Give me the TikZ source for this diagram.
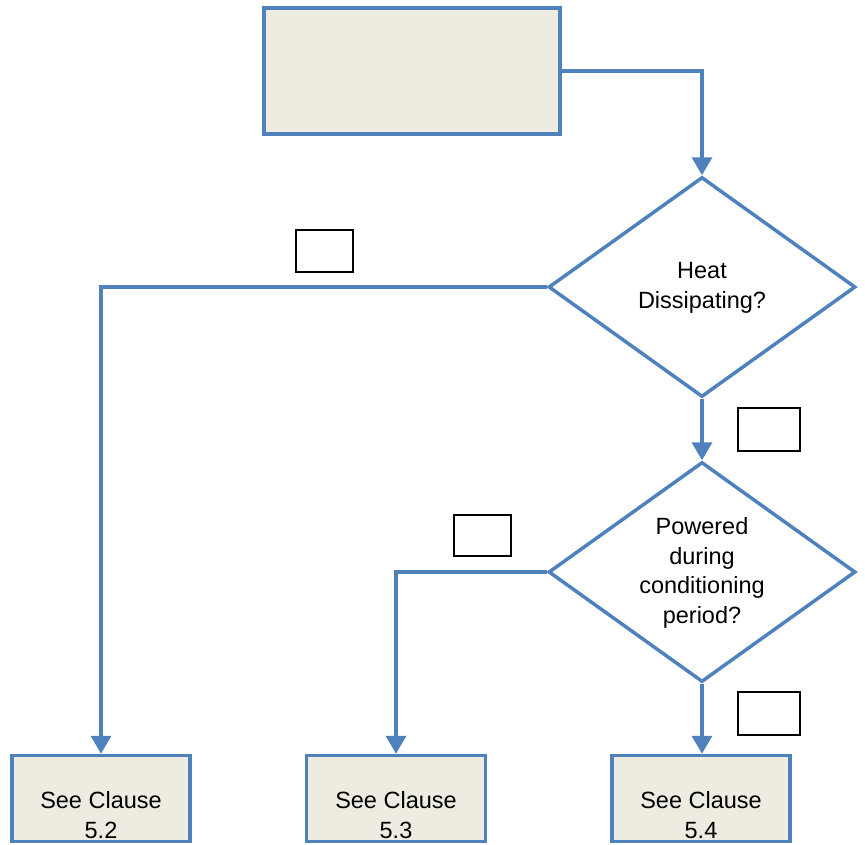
\documentclass[tikz,border=0pt]{standalone}
\usepackage{fontspec}
\setmainfont{Liberation Sans}
\usetikzlibrary{shapes.geometric,arrows.meta}
\definecolor{flowblue}{HTML}{4F81BD}
\definecolor{boxfill}{HTML}{EEEBE0}
\begin{document}
\begin{tikzpicture}[x=1pt,y=-1pt,
  procbox/.style={draw=flowblue,fill=boxfill,line width=3.5pt,inner sep=0pt},
  decision/.style={diamond,draw=flowblue,line width=3.5pt,inner sep=0pt,aspect=1.395,minimum width=307pt,minimum height=220pt},
  lbl/.style={font=\fontsize{23.5}{29.5}\selectfont,align=center,inner sep=0pt},
  tagbox/.style={draw=black,line width=1.4pt,fill=white,inner sep=0pt},
  flow/.style={draw=flowblue,line width=3.5pt,-{Triangle[width=20pt,length=18pt]}}]
\useasboundingbox (0,0) rectangle (865,844);
% top box
\node[procbox,minimum width=296pt,minimum height=126pt] (top) at (412,71) {};
% diamonds
\node[decision] (d1) at (702,287) {};
\node[lbl] (d1t) at (702,288) {Heat\\Dissipating?};
\node[decision] (d2) at (702,572) {};
\node[lbl] (d2t) at (702,573) {Powered\\during\\conditioning\\period?};
% bottom boxes
\node[procbox,minimum width=178pt,minimum height=86pt] (b1) at (101,798.5) {};
\node[procbox,minimum width=179pt,minimum height=86pt] (b2) at (396,798.5) {};
\node[procbox,minimum width=178pt,minimum height=86pt] (b3) at (701,798.5) {};
\node[lbl] (b1t) at (101,815) {See Clause\\5.2};
\node[lbl] (b2t) at (396,815) {See Clause\\5.3};
\node[lbl] (b3t) at (701,815) {See Clause\\5.4};
% tag boxes
\node[tagbox,minimum width=57pt,minimum height=42pt] (t1) at (324.5,251) {};
\node[tagbox,minimum width=62pt,minimum height=43pt] (t2) at (769,429.5) {};
\node[tagbox,minimum width=57pt,minimum height=41pt] (t3) at (482.5,535.5) {};
\node[tagbox,minimum width=62pt,minimum height=43pt] (t4) at (769,713.5) {};
% connectors
\draw[flow] (top.east) -- (top.east -| d1.north) -- (d1.north);
\draw[flow] (d1.west) -| (b1.north);
\draw[flow] (d1.south) -- (d2.north);
\draw[flow] (d2.west) -| (b2.north);
\draw[flow] (d2.south) -- (d2.south |- b3.north);
\end{tikzpicture}
\end{document}
